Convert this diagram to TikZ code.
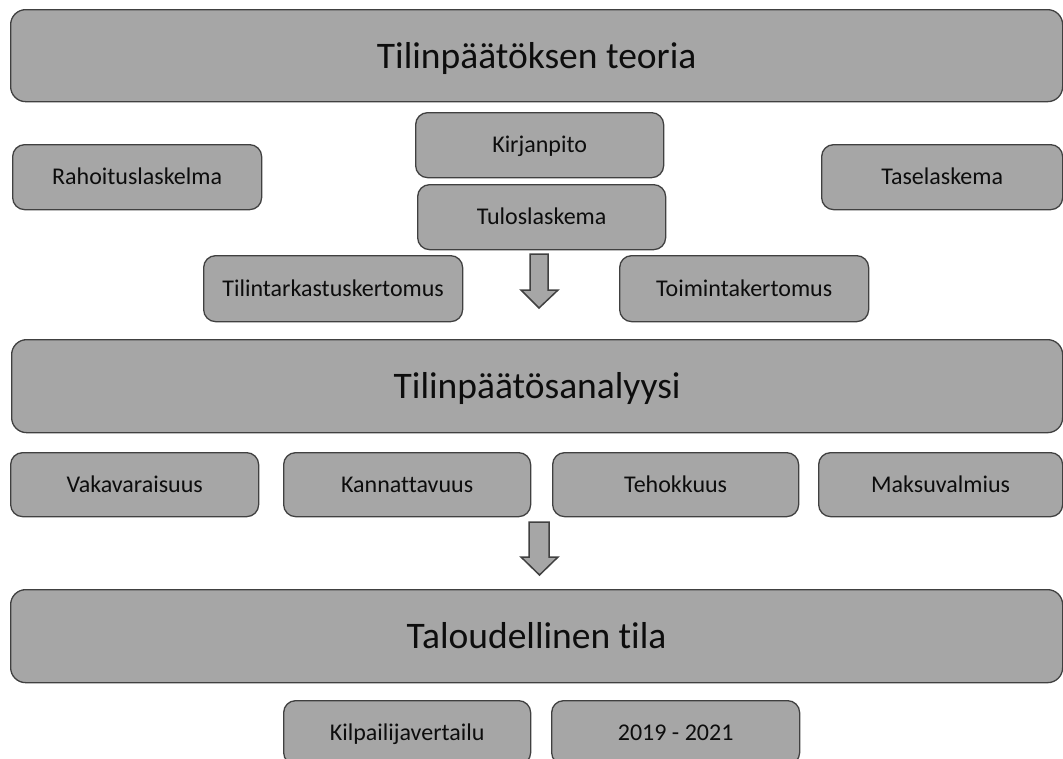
\documentclass[tikz,border=0pt]{standalone}
\usepackage{fontspec}
\setmainfont[Ligatures=NoCommon]{Carlito}
\definecolor{boxfill}{HTML}{A6A6A6}
\definecolor{boxline}{HTML}{404040}
\definecolor{txt}{HTML}{0D0D0D}
\tikzset{
  box/.style={draw=boxline, fill=boxfill, line width=1.3pt, rounded corners=12pt,
    inner sep=0pt, anchor=north west, text=txt, font=\fontsize{24}{28}\selectfont,
    text height=15.5pt, text depth=0pt},
  bigbox/.style={box, rounded corners=15pt, font=\fontsize{37.5}{44}\selectfont,
    text height=25pt, text depth=0pt},
  blockarrow/.style={draw=boxline, fill=boxfill, line width=1.5pt, line join=miter}
}
\newcommand{\bx}[7]{% style, name, x, y, w, h, text
  \node[#1, minimum width=#5pt, minimum height=#6pt] (#2) at (#3pt,-#4pt) {#7};}
\begin{document}
\begin{tikzpicture}
\useasboundingbox (0,0) rectangle (1063pt,-758pt);
\bx{bigbox}{teoria}{10}{9}{1052}{92}{Tilinpäätöksen teoria}
\bx{box}{rahoitus}{12}{144}{249}{65}{Rahoituslaskelma}
\bx{box}{kirjanpito}{415}{112}{248}{65}{Kirjanpito}
\bx{box}{tase}{821}{144}{241}{65}{Taselaskema}
\bx{box}{tulos}{417}{184}{248}{65}{Tuloslaskema}
\bx{box}{tilintark}{203}{255}{259}{66}{Tilintarkastuskertomus}
\bx{box}{toiminta}{619}{255}{249}{66}{Toimintakertomus}
\bx{bigbox}{analyysi}{11}{339}{1051}{93}{Tilinpäätösanalyysi}
\bx{box}{vaka}{10}{452}{248}{64}{Vakavaraisuus}
\bx{box}{kanna}{283}{452}{247}{64}{Kannattavuus}
\bx{box}{teho}{552}{452}{246}{64}{Tehokkuus}
\bx{box}{maksu}{818}{452}{244}{64}{Maksuvalmius}
\bx{bigbox}{tila}{10}{589}{1052}{93}{Taloudellinen tila}
\bx{box}{kilpa}{283}{700}{247}{64}{Kilpailijavertailu}
\bx{box}{vuodet}{551}{700}{248}{64}{2019 - 2021}
% block arrows
\draw[blockarrow] (530pt,-254pt) -- (548pt,-254pt) -- (548pt,-290pt) -- (558pt,-290pt)
  -- (539pt,-308pt) -- (521pt,-290pt) -- (530pt,-290pt) -- cycle;
\draw[blockarrow] (529pt,-522pt) -- (549pt,-522pt) -- (549pt,-557pt) -- (558pt,-557pt)
  -- (539.5pt,-575pt) -- (521pt,-557pt) -- (529pt,-557pt) -- cycle;
\end{tikzpicture}
\end{document}
